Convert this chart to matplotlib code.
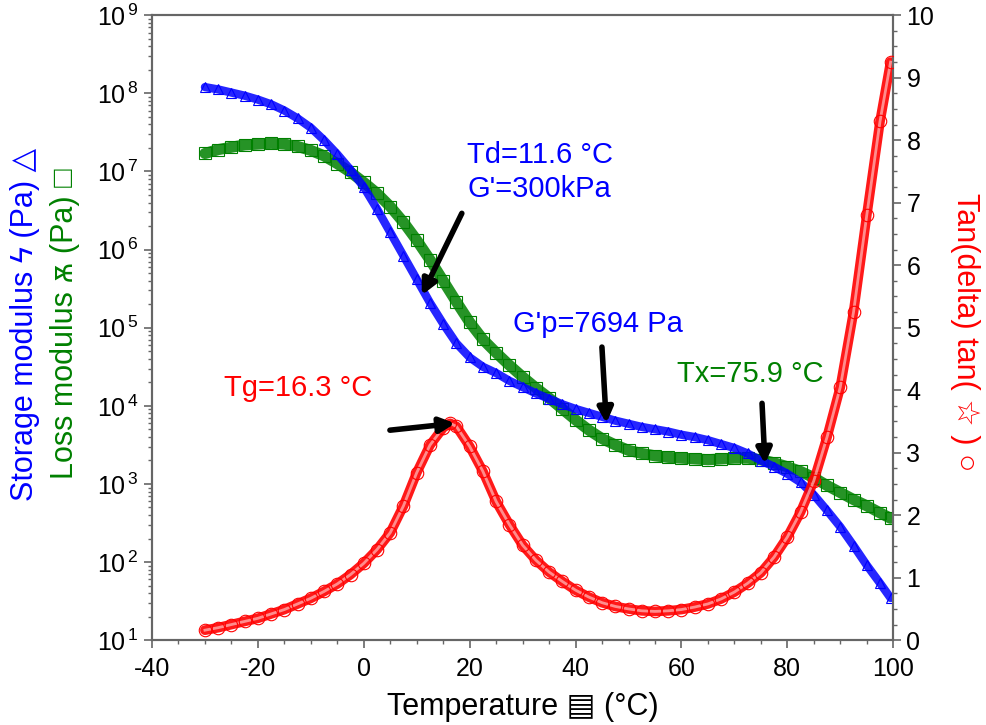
import matplotlib
matplotlib.use('Agg')
import matplotlib.pyplot as plt
from matplotlib.ticker import FuncFormatter, LogLocator, MultipleLocator
import numpy as np

plt.rcParams['font.family'] = ['Liberation Sans', 'DejaVu Sans']
plt.rcParams['mathtext.fontset'] = 'custom'
plt.rcParams['mathtext.rm'] = 'Liberation Sans'
plt.rcParams['axes.unicode_minus'] = False

# temperature (°C) for the modulus curves
temp = [-30, -27.5, -25, -22.5, -20, -17.5, -15, -12.5, -10, -7.5, -5, -2.5, 0,
        2.5, 5, 7.5, 10, 12.5, 15, 17.5, 20, 22.5, 25, 27.5, 30, 32.5, 35, 37.5,
        40, 42.5, 45, 47.5, 50, 52.5, 55, 57.5, 60, 62.5, 65, 67.5, 70, 72.5, 75,
        77.5, 80, 82.5, 85, 87.5, 90, 92.5, 95, 97.5, 99.5]

# log10 of storage modulus G' (Pa)
log_storage = [8.08, 8.05, 8.01, 7.97, 7.92, 7.86, 7.78, 7.68, 7.56, 7.40, 7.22,
               7.02, 6.80, 6.52, 6.22, 5.92, 5.62, 5.32, 5.05, 4.80, 4.62, 4.50,
               4.42, 4.32, 4.24, 4.16, 4.09, 4.02, 3.96, 3.91, 3.86, 3.81, 3.77,
               3.73, 3.70, 3.67, 3.63, 3.60, 3.56, 3.51, 3.46, 3.39, 3.30, 3.22,
               3.13, 3.02, 2.86, 2.66, 2.45, 2.21, 1.96, 1.73, 1.54]

# log10 of loss modulus G'' (Pa)
log_loss = [7.23, 7.28, 7.31, 7.34, 7.35, 7.36, 7.35, 7.32, 7.27, 7.20, 7.10,
            6.99, 6.86, 6.72, 6.55, 6.35, 6.12, 5.87, 5.60, 5.33, 5.07, 4.85,
            4.68, 4.52, 4.37, 4.23, 4.10, 3.96, 3.82, 3.69, 3.58, 3.50, 3.43,
            3.39, 3.36, 3.34, 3.33, 3.32, 3.31, 3.32, 3.33, 3.33, 3.31, 3.27,
            3.22, 3.16, 3.08, 2.98, 2.89, 2.80, 2.72, 2.63, 2.56]

# tan(delta)
temp_tan = [-30, -27.5, -25, -22.5, -20, -17.5, -15, -12.5, -10, -7.5, -5, -2.5, 0,
            2.5, 5, 7.5, 10, 12.5, 15, 16.3, 17.5, 20, 22.5, 25, 27.5, 30, 32.5, 35,
            37.5, 40, 42.5, 45, 47.5, 50, 52.5, 55, 57.5, 60, 62.5, 65, 67.5, 70,
            72.5, 75, 77.5, 80, 82.5, 85, 87.5, 90, 92.5, 95, 97.5, 99.5]
tan_delta = [0.16, 0.20, 0.25, 0.30, 0.35, 0.42, 0.49, 0.58, 0.67, 0.78, 0.90,
             1.05, 1.23, 1.45, 1.72, 2.15, 2.68, 3.12, 3.40, 3.47, 3.42, 3.10,
             2.70, 2.22, 1.85, 1.52, 1.28, 1.09, 0.94, 0.80, 0.69, 0.60, 0.54,
             0.50, 0.47, 0.46, 0.47, 0.49, 0.53, 0.58, 0.66, 0.77, 0.91, 1.08,
             1.33, 1.65, 2.05, 2.55, 3.25, 4.05, 5.25, 6.80, 8.30, 9.25]

storage = np.power(10.0, log_storage)
loss = np.power(10.0, log_loss)

fig = plt.figure(figsize=(9.87, 7.25), dpi=100)
ax = fig.add_axes([0.154, 0.117, 0.751, 0.862])
ax2 = ax.twinx()

blue, green, red = '#0000ff', '#008000', '#ff0000'
spine_c = '#666666'

# modulus curves: a band plus hollow markers
ax.plot(temp, storage, color=blue, lw=6, alpha=0.85, solid_capstyle='round', zorder=3)
ax.plot(temp, storage, ls='none', marker='^', ms=7, mfc='none', mec=blue, mew=0.8, zorder=4)
ax.plot(temp, loss, color=green, lw=8, alpha=0.85, solid_capstyle='round', zorder=2)
ax.plot(temp, loss, ls='none', marker='s', ms=8, mfc='none', mec=green, mew=0.8, zorder=2.5)

ax2.plot(temp_tan, tan_delta, color=red, lw=7, alpha=0.9, solid_capstyle='round', zorder=2)
ax2.plot(temp_tan, tan_delta, color='white', lw=2, alpha=0.5, zorder=3)
ax2.plot(temp_tan, tan_delta, ls='none', marker='o', ms=9,
         mfc='none', mec=red, mew=0.8, zorder=4)

ax.set_xlim(-40, 100)
ax.set_yscale('log')
ax.set_ylim(1e1, 1e9)
ax2.set_ylim(0, 10)

ax.xaxis.set_major_locator(MultipleLocator(20))
ax.xaxis.set_minor_locator(MultipleLocator(5))
ax.yaxis.set_major_locator(LogLocator(base=10, numticks=20))
ax.yaxis.set_minor_locator(LogLocator(base=10, subs=np.arange(2, 10), numticks=20))
ax.yaxis.set_major_formatter(FuncFormatter(lambda v, p: r'$\mathregular{10^{\,%d}}$' % round(np.log10(v))))
ax2.yaxis.set_major_locator(MultipleLocator(1))
ax2.yaxis.set_minor_locator(MultipleLocator(0.25))

for a in (ax, ax2):
    for s in a.spines.values():
        s.set_color(spine_c)
        s.set_linewidth(1.5)
    a.tick_params(which='major', direction='out', length=6, width=1.2, color=spine_c,
                  labelsize=18, labelcolor='black')
    a.tick_params(which='minor', direction='out', length=3, width=1, color=spine_c)
ax.tick_params(axis='x', pad=6)

ax.set_xlabel('Temperature \u25a4 (\u00b0C)', fontsize=22, labelpad=8)

fig.text(0.025, 0.553, 'Storage modulus \u03df (Pa) \u25b3', color=blue, fontsize=22,
         rotation=90, ha='center', va='center')
fig.text(0.066, 0.553, 'Loss modulus \u046b (Pa) \u25a1', color=green, fontsize=22,
         rotation=90, ha='center', va='center')
fig.text(0.978, 0.542, 'Tan(delta) tan( \u2606 ) \u25cb', color=red, fontsize=22,
         rotation=-90, ha='center', va='center')

fs = 21
ax.text(0.425, 0.763, 'Td=11.6 \u00b0C', color=blue, fontsize=fs, transform=ax.transAxes)
ax.text(0.425, 0.709, "G'=300kPa", color=blue, fontsize=fs, transform=ax.transAxes)
ax.text(0.487, 0.493, "G'p=7694 Pa", color=blue, fontsize=fs, transform=ax.transAxes)
ax.text(0.708, 0.413, 'Tx=75.9 \u00b0C', color=green, fontsize=fs, transform=ax.transAxes)
ax.text(0.097, 0.390, 'Tg=16.3 \u00b0C', color=red, fontsize=fs, transform=ax.transAxes)

arrows = [((0.364, 0.552), (0.418, 0.683)),
          ((0.613, 0.347), (0.607, 0.469)),
          ((0.827, 0.282), (0.823, 0.379)),
          ((0.409, 0.347), (0.321, 0.336))]
for tip, tail in arrows:
    ax2.annotate('', xy=tip, xytext=tail, xycoords='axes fraction', textcoords='axes fraction',
                 arrowprops=dict(arrowstyle='-|>', lw=4, color='black', mutation_scale=22,
                                 shrinkA=0, shrinkB=0), zorder=6)

fig.savefig('out.png', dpi=100)
